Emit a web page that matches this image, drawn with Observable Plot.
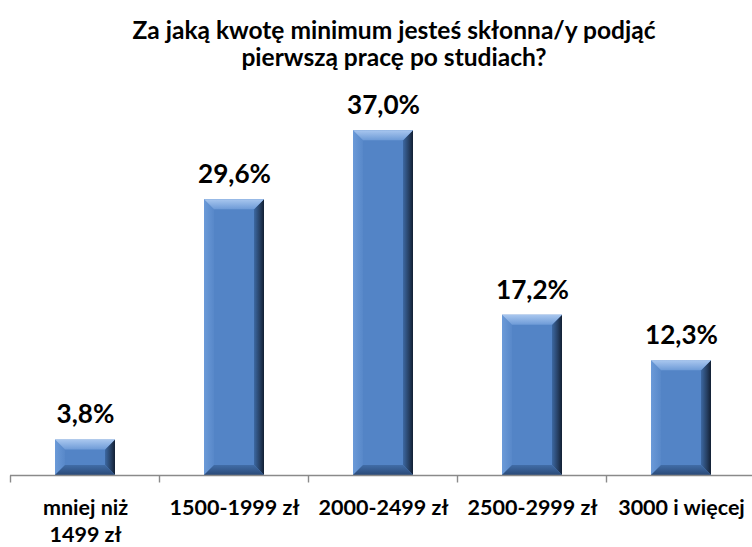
<!DOCTYPE html>
<html><head><meta charset="utf-8">
<script src="https://cdn.jsdelivr.net/npm/d3@7"></script>
<script src="https://cdn.jsdelivr.net/npm/@observablehq/plot@0.6"></script>
<style>
html,body{margin:0;padding:0;background:#fff;}
#wrap{position:relative;width:752px;height:547px;overflow:hidden;font-family:Lato,sans-serif;background:#fff;}
#title{position:absolute;left:0;top:16px;width:788px;text-align:center;font-weight:bold;line-height:27px;color:#000;}
#chart{position:absolute;left:0;top:80px;width:756px;}
</style></head><body>
<div id="wrap">
  <div id="title"><div id="t1"></div><div id="t2"></div></div>
  <div id="chart"></div>
</div>
<script>
const categories = ["mniej niż\n1499 zł", "1500-1999 zł", "2000-2499 zł", "2500-2999 zł", "3000 i więcej"];
const values = [3.8, 29.6, 37.0, 17.2, 12.3];
const valueLabels = ["3,8%", "29,6%", "37,0%", "17,2%", "12,3%"];
const titleLines = ["Za jaką kwotę minimum jesteś skłonna/y podjąć", "pierwszą pracę po studiach?"];

const data = categories.map((c, i) => ({category: c, value: values[i], label: valueLabels[i]}));

function fit(text, width, family) {
  const ctx = document.createElement("canvas").getContext("2d");
  ctx.font = `bold 100px ${family}`;
  return 100 * width / ctx.measureText(text).width;
}
const FAMILY = "Lato";
const ts = fit(titleLines[0], 524, FAMILY);
const cs = fit("2500-2999 zł", 130, FAMILY);
const vs = fit("37,0%", 73, FAMILY);

document.getElementById("t1").textContent = titleLines[0];
document.getElementById("t2").textContent = titleLines[1];
document.getElementById("title").style.fontSize = ts + "px";

const chart = Plot.plot({
  width: 756, height: 467,
  marginLeft: 10, marginRight: 0, marginTop: 22.2, marginBottom: 72,
  x: {domain: categories, paddingInner: 0.6, paddingOuter: 0.3, axis: null},
  y: {domain: [0, 40], axis: null},
  style: {fontFamily: "Lato, sans-serif", background: "#fff", maxWidth: "none", overflow: "visible"},
  marks: [
    Plot.barY(data, {x: "category", y: "value", fill: "#5384c6"}),
    Plot.ruleY([0], {stroke: "#8a8a8a", strokeWidth: 1.4}),
    Plot.text(data, {x: "category", y: "value", text: "label", dy: -25, lineAnchor: "middle",
      fontSize: vs, fontWeight: "bold", fill: "#000"}),
    Plot.text(data, {x: "category", y: 0, text: "category", lineAnchor: "top", dy: 28 - 0.35 * cs,
      lineHeight: 27 / cs, fontSize: cs, fontWeight: "bold", fill: "#000"})
  ]
});
document.getElementById("chart").appendChild(chart);

// bevel decoration using Plot's scales
const xs = chart.scale("x"), ys = chart.scale("y");
const svg = d3.select(chart);
const defs = svg.insert("defs", ":first-child");
function lin(id, x2, y2, stops) {
  const g = defs.append("linearGradient").attr("id", id).attr("x1", 0).attr("y1", 0).attr("x2", x2).attr("y2", y2);
  stops.forEach(([o, c]) => g.append("stop").attr("offset", o).attr("stop-color", c));
}
lin("gTop", 0, 1, [[0, "#a9c7ef"], [1, "#6e9bd7"]]);
lin("gRight", 1, 0, [[0, "#3c68a2"], [0.6, "#263f62"], [1, "#121f33"]]);
lin("gBottom", 0, 1, [[0, "#416da7"], [1, "#2a4a78"]]);
lin("gLeft", 1, 0, [[0, "#6b9ad8"], [1, "#5888c9"]]);

const barG = chart.querySelector('g[aria-label="bar"]');
const bev = document.createElementNS("http://www.w3.org/2000/svg", "g");
barG.after(bev);
const bg = d3.select(bev);
const base = ys.apply(0);
data.forEach(d => {
  const x0 = xs.apply(d.category), w = xs.bandwidth;
  const y0 = ys.apply(d.value), y1 = base;
  const h = y1 - y0;
  const b = Math.min(10, h / 2.5);
  const poly = (pts, fill) => bg.append("polygon").attr("points", pts.map(p => p.join(",")).join(" ")).attr("fill", fill);
  poly([[x0, y0], [x0 + b, y0 + b], [x0 + b, y1 - b], [x0, y1]], "url(#gLeft)");
  poly([[x0 + w, y0], [x0 + w, y1], [x0 + w - b, y1 - b], [x0 + w - b, y0 + b]], "url(#gRight)");
  poly([[x0, y1], [x0 + w, y1], [x0 + w - b, y1 - b], [x0 + b, y1 - b]], "url(#gBottom)");
  poly([[x0, y0], [x0 + w, y0], [x0 + w - b, y0 + b], [x0 + b, y0 + b]], "url(#gTop)");
});

// category boundary ticks
const ruleG = chart.querySelector('g[aria-label="rule"]');
const tg = d3.select(ruleG);
const gap = xs.step - xs.bandwidth;
const bounds = categories.map(c => xs.apply(c) - gap / 2);
bounds.push(bounds[bounds.length - 1] + xs.step);
bounds.forEach(bx => tg.append("line").attr("x1", bx).attr("x2", bx).attr("y1", base).attr("y2", base + 7)
  .attr("stroke", "#8a8a8a").attr("stroke-width", 1.4));
</script>
</body></html>
